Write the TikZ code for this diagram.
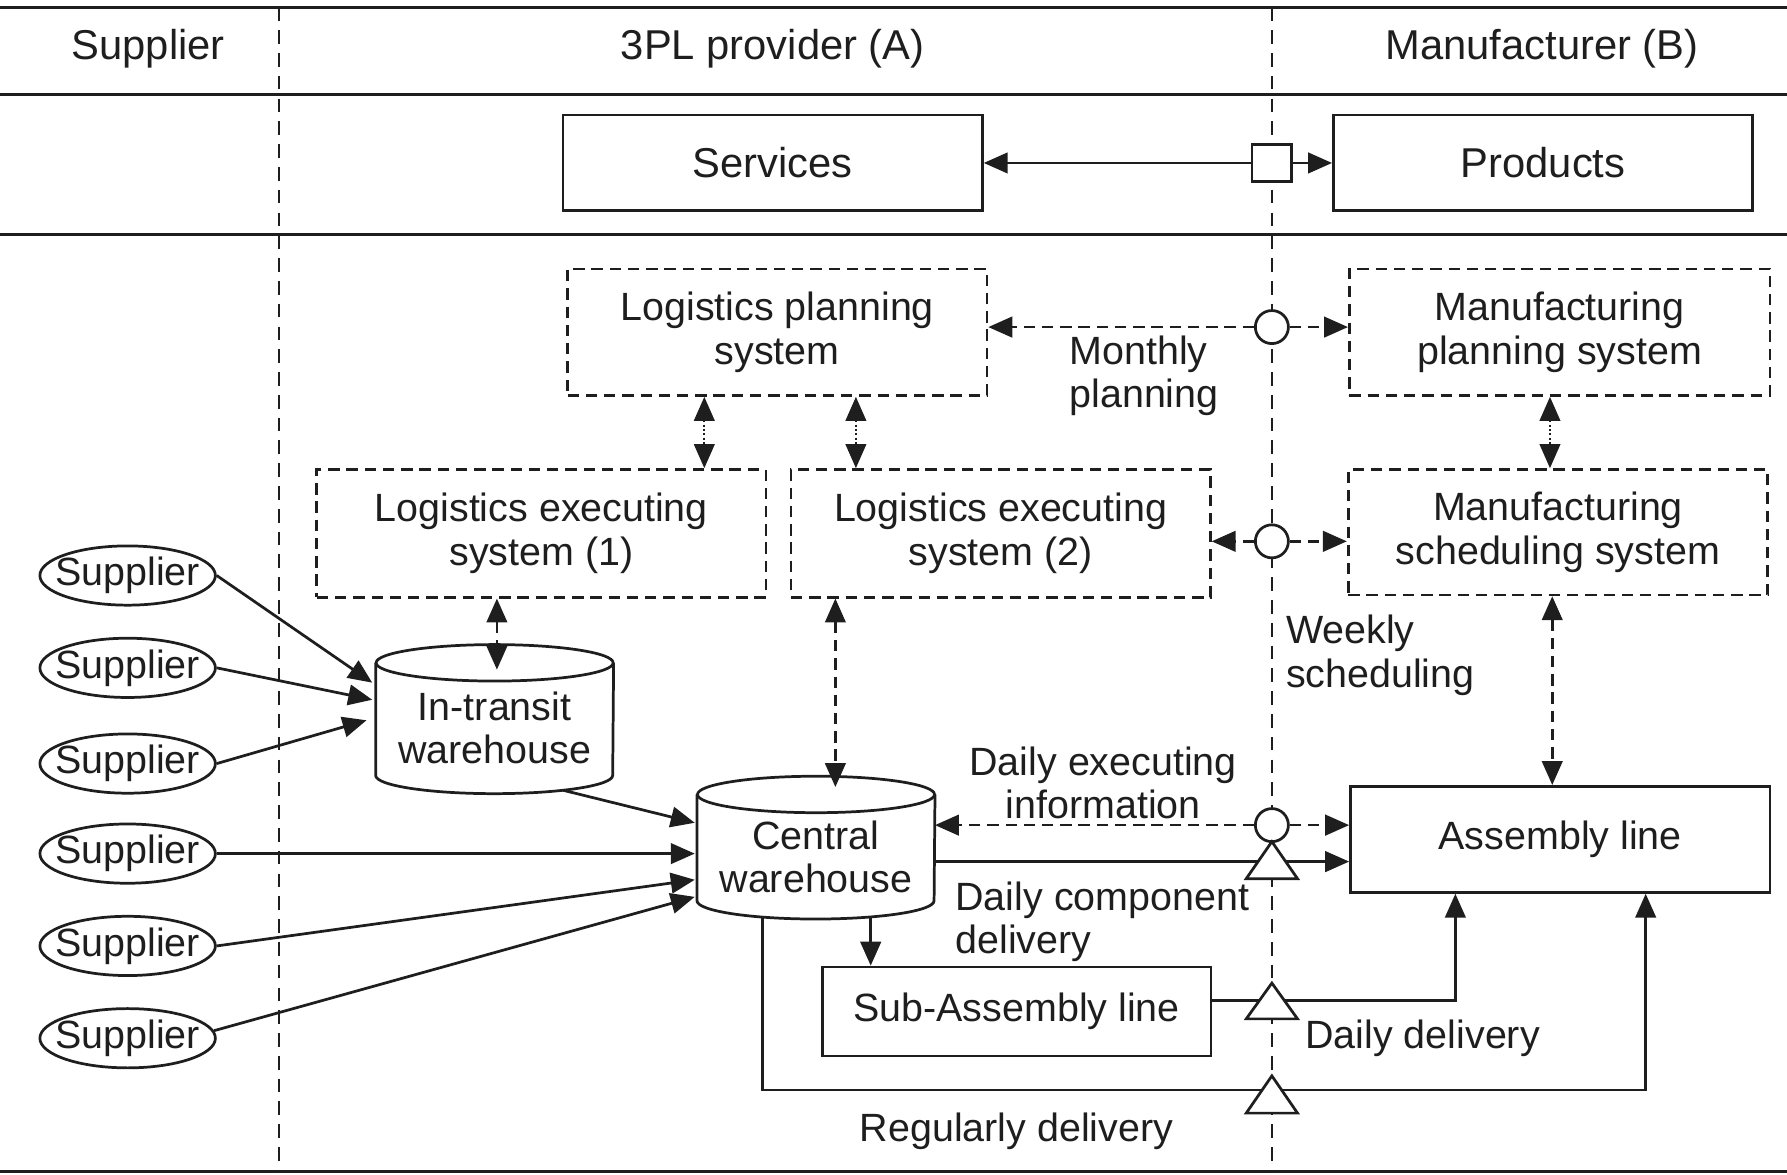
\documentclass[tikz,border=0pt]{standalone}
\usepackage{fontspec}
\setmainfont{Liberation Sans}
\usetikzlibrary{arrows.meta,calc,shapes.geometric}
\definecolor{ink}{RGB}{30,30,30}
\newcommand\myfs{\fontsize{17.3pt}{19pt}\selectfont}
\newcommand\myfh{\fontsize{18.3pt}{20pt}\selectfont}
\begin{document}
\begin{tikzpicture}[x=0.5pt,y=-0.5pt,
  >={Triangle[length=10.5pt,width=9pt]},
  every node/.style={text=ink, font=\myfs},
  ln/.style={draw=ink, line width=1.2pt},
  box/.style={ln, rectangle, inner sep=0pt, align=center},
  dbox/.style={box, dash pattern=on 5pt off 3pt},
  supp/.style={ln, ellipse, inner sep=0pt, minimum width=77pt, minimum height=26pt},
  cyl/.style={rectangle, inner sep=0pt, align=center, minimum width=104pt},
  lbl/.style={inner sep=0pt, align=left},
  dsh/.style={ln, dash pattern=on 5pt off 3pt},
  dot/.style={ln, line width=0.9pt, dash pattern=on 0.9pt off 1pt},
  lane/.style={draw=ink, line width=1.1pt, dash pattern=on 6pt off 4pt},
  rule/.style={draw=ink, line width=1.5pt},
  tri/.style={ln, fill=white, line join=miter},
  circ/.style={ln, circle, fill=white, minimum size=14.5pt, inner sep=0pt},
]
\useasboundingbox (0,0) rectangle (1568,1031);

% rules and lanes
\draw[rule] (0,6.5) -- (1568,6.5);
\draw[rule] (0,83) -- (1568,83);
\draw[rule] (0,206) -- (1568,206);
\draw[rule] (0,1028) -- (1568,1028);
\draw[lane] (245,6.5) -- (245,1028);
\draw[lane] (1116,6.5) -- (1116,1028);

% headers
\node[font=\myfh] (hs) at (130,43) {Supplier};
\node[font=\myfh] (h3) at (678,43) {3PL provider (A)};
\node[font=\myfh] (hm) at (1353,43) {Manufacturer (B)};

% services / products
\node[box, font=\myfh, minimum width=184pt, minimum height=42pt] (srv) at (678,143) {Services};
\node[box, font=\myfh, minimum width=184pt, minimum height=42pt] (prd) at (1354,143) {Products};
\node[box, fill=white, minimum width=17.5pt, minimum height=16.5pt] (sq) at (1116,143) {};
\draw[ln,->] (sq.west) -- (sq.west -| srv.east);
\draw[ln,->] (sq.east) -- (sq.east -| prd.west);

% information systems
\node[dbox, minimum width=184pt, minimum height=55.5pt] (lps) at (682,291.5) {Logistics planning\\system};
\node[dbox, minimum width=184.5pt, minimum height=55.5pt] (mps) at (1368.5,291.5) {Manufacturing\\planning system};
\node[dbox, minimum width=197pt, minimum height=56pt] (les1) at (475,468) {Logistics executing\\system (1)};
\node[dbox, minimum width=184pt, minimum height=56pt] (les2) at (878,468) {Logistics executing\\system (2)};
\node[dbox, minimum width=184pt, minimum height=55pt] (mss) at (1367,467) {Manufacturing\\scheduling system};

% lines
\node[box, minimum width=184pt, minimum height=46.5pt] (asm) at (1369,736.5) {Assembly line};
\node[box, minimum width=170.5pt, minimum height=39pt] (sub) at (892,887.5) {Sub-Assembly line};

% interface circles
\node[circ] (c1) at (1116,287) {};
\node[circ] (c2) at (1116,475) {};
\node[circ] (c3) at (1116,724) {};

% warehouses (cylinders)
\node[cyl, minimum height=57pt] (it) at (434,639) {In-transit\\warehouse};
\draw[ln] (it.north west) -- ([yshift=8pt]it.south west)
  arc[start angle=180, end angle=360, x radius=52pt, y radius=8pt]
  -- (it.north east);
\draw[ln] (it.north) ellipse[x radius=52pt, y radius=8pt];

\node[cyl, minimum height=54.25pt] (cw) at (716,751.75) {Central\\warehouse};
\draw[ln] (cw.north west) -- ([yshift=8pt]cw.south west)
  arc[start angle=180, end angle=360, x radius=52pt, y radius=8pt]
  -- (cw.north east);
\draw[ln] (cw.north) ellipse[x radius=52pt, y radius=8pt];

% suppliers
\node[supp] (s1) at (112,505) {\makebox[0pt]{Supplier}};
\node[supp] (s2) at (112,586) {\makebox[0pt]{Supplier}};
\node[supp] (s3) at (112,670) {\makebox[0pt]{Supplier}};
\node[supp] (s4) at (112,749) {\makebox[0pt]{Supplier}};
\node[supp] (s5) at (112,830) {\makebox[0pt]{Supplier}};
\node[supp] (s6) at (112,911) {\makebox[0pt]{Supplier}};

\draw[ln,->] (s1.east) -- ([xshift=-1.5pt,yshift=20pt]it.west);
\draw[ln,->] (s2.east) -- ([xshift=-1.5pt,yshift=12.5pt]it.west);
\draw[ln,->] (s3.east) -- ([xshift=-4pt,yshift=3.5pt]it.west);
\draw[ln,->] ([xshift=30pt,yshift=1.5pt]it.south) -- ([xshift=-1pt,yshift=14.9pt]cw.west);
\draw[ln,->] (s4.east) -- ([xshift=-1pt]s4.east -| cw.west);
\draw[ln,->] (s5.east) -- ([xshift=-1pt,yshift=-10.1pt]cw.west);
\draw[ln,->] (s6.5) -- ([xshift=-1pt,yshift=-17.6pt]cw.west);

% planning / executing links
\coordinate (p1) at ([xshift=-32pt]lps.south);
\draw[dot,<->] (p1) -- (p1 |- les1.north);
\coordinate (p2) at ([xshift=34.5pt]lps.south);
\draw[dot,<->] (p2) -- (p2 |- les2.north);
\coordinate (p3) at ([xshift=-4.25pt]mps.south);
\draw[dot,<->] (p3) -- (p3 |- mss.north);

\coordinate (p4) at ([xshift=-19.5pt]les1.south);
\path (p4 |- it.north) ++(0,6) coordinate (p4e);
\draw[dsh,<->] (p4) -- (p4e);
\coordinate (p5) at ([xshift=-72.5pt]les2.south);
\path (p5 |- cw.north) ++(0,-6.5) coordinate (p5e);
\draw[dsh,<->] (p5) -- (p5e);
\coordinate (p6) at ([xshift=-2.5pt]mss.south);
\draw[dsh,<->] (p6) -- (p6 |- asm.north);

% cross-company information
\draw[dsh,->] (c1.west) -- (c1.west -| lps.east);
\draw[dsh,->] (c1.east) -- (c1.east -| mps.west);
\draw[dsh,->] (c2.west) -- (c2.west -| les2.east);
\draw[dsh,->] (c2.east) -- (c2.east -| mss.west);
\draw[dsh,->] (c3.west) -- (c3.west -| cw.east);
\draw[dsh,->] (c3.east) -- (c3.east -| asm.west);

% material flows
\coordinate (t1) at (1116,756);
\coordinate (t2) at (1116,878);
\coordinate (t3) at (1116,956.4);
\draw[ln,->] (t1 -| cw.east) -- (t1 -| asm.west);
\coordinate (cwd) at ([xshift=24pt,yshift=1pt]cw.south);
\draw[ln,->] (cwd) -- (cwd |- sub.north);
\coordinate (asmd) at ([xshift=-46pt]asm.south);
\draw[ln,->] (t2 -| sub.east) -| (asmd);
\coordinate (cwr) at ([xshift=-23.5pt,yshift=1pt]cw.south);
\coordinate (asmr) at ([xshift=37.5pt]asm.south);
\draw[ln,->] (cwr) |- (t3) -| (asmr);

% triangles (material interfaces)
\draw[tri] ($(t1)+(0,-17.5)$) -- ($(t1)+(22.5,15)$) -- ($(t1)+(-22.5,15)$) -- cycle;
\draw[tri] ($(t2)+(0,-15.4)$) -- ($(t2)+(22.5,16)$) -- ($(t2)+(-22.5,16)$) -- cycle;
\draw[tri] ($(t3)+(0,-12.4)$) -- ($(t3)+(22.5,20.3)$) -- ($(t3)+(-22.5,20.3)$) -- cycle;

% labels
\node[lbl, anchor=west] (lm) at (938,330) {Monthly\\planning};
\node[lbl, anchor=west] (lw) at (1128,575) {Weekly\\scheduling};
\node[lbl, align=center] (ld) at (968,687) {Daily executing\\information};
\node[lbl, anchor=west] (lc) at (838,809) {Daily component\\delivery};
\node[lbl, anchor=west] (ldd) at (1145,911) {Daily delivery};
\node[lbl] (lr) at (892,993) {Regularly delivery};
\end{tikzpicture}
\end{document}
